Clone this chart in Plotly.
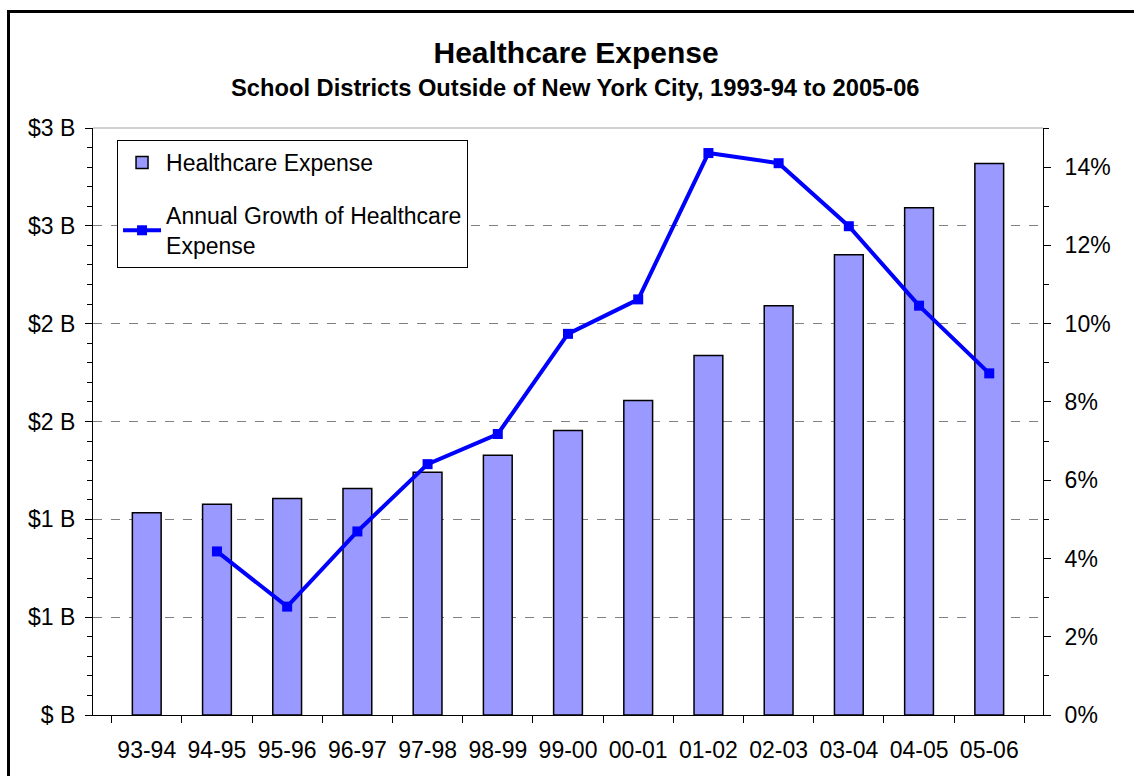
import plotly.graph_objects as go

# values
years = ['93-94', '94-95', '95-96', '96-97', '97-98', '98-99', '99-00',
         '00-01', '01-02', '02-03', '03-04', '04-05', '05-06']
expense_b = [1.034, 1.077, 1.107, 1.158, 1.240, 1.327, 1.454,
             1.607, 1.837, 2.092, 2.352, 2.592, 2.819]
growth_pct = [None, 4.18, 2.77, 4.69, 6.41, 7.18, 9.74,
              10.62, 14.36, 14.10, 12.49, 10.46, 8.73]

left_ticks = [0, 0.5, 1.0, 1.5, 2.0, 2.5, 3.0]
left_labels = ['$ B', '$1 B', '$1 B', '$2 B', '$2 B', '$3 B', '$3 B']

FONT = 'Liberation Sans, Arial, sans-serif'

fig = go.Figure()

fig.add_trace(go.Bar(x=years,
                     y=expense_b,
                     name='Healthcare Expense',
                     legendgroup='a',
                     marker=dict(color='#9999FF', line=dict(color='black', width=1.5)),
                     yaxis='y'))

fig.add_trace(go.Scatter(x=years,
                         y=growth_pct,
                         mode='lines+markers',
                         name='Annual Growth of Healthcare<br>Expense',
                         legendgroup='b',
                         line=dict(color='#0000FF', width=4),
                         marker=dict(symbol='square', size=10, color='#0000FF'),
                         yaxis='y2'))

fig.update_layout(
    width=1134,
    height=776,
    title=dict(text='<b>Healthcare Expense</b>', x=0.508, xanchor='center',
               y=1 - 52 / 776, yanchor='middle', yref='container',
               font=dict(family=FONT, size=30, color='black')),
    font=dict(family=FONT, size=23, color='black'),
    plot_bgcolor='white',
    paper_bgcolor='white',
    margin=dict(l=93, r=91, t=128, b=61),
    bargap=0.59,
    showlegend=True,
    legend=dict(x=0.0253, y=0.9796, xanchor='left', yanchor='top',
                bgcolor='white', bordercolor='black', borderwidth=1,
                traceorder='grouped', tracegroupgap=20, itemwidth=38,
                font=dict(family=FONT, size=23)),
    xaxis=dict(type='category', showline=True, linecolor='black', linewidth=1,
               ticks='outside', ticklen=7, tickcolor='black', tickson='boundaries',
               ticklabelstandoff=14,
               showgrid=False, tickfont=dict(size=23)),
    yaxis=dict(range=[0, 3.0], tickvals=left_ticks, ticktext=left_labels,
               showline=True, linecolor='black', linewidth=1,
               ticks='outside', ticklen=7, tickcolor='black', ticklabelstandoff=5,
               minor=dict(dtick=0.1, ticks='outside', ticklen=5, tickcolor='black', showgrid=False),
               showgrid=True, gridcolor='#808080', griddash='dash', gridwidth=1,
               zeroline=False, tickfont=dict(size=23)),
    yaxis2=dict(range=[0, 15], dtick=2, tick0=0, ticksuffix='%', overlaying='y', side='right',
                showline=True, linecolor='black', linewidth=1,
                ticks='outside', ticklen=7, tickcolor='black', ticklabelstandoff=9,
                minor=dict(dtick=1, ticks='outside', ticklen=5, tickcolor='black', showgrid=False),
                showgrid=False, zeroline=False, tickfont=dict(size=23)),
    annotations=[dict(text='<b>School Districts Outside of New York City, 1993-94 to 2005-06</b>',
                      xref='paper', yref='paper', x=0.5084, y=(715 - 88) / 587,
                      xanchor='center', yanchor='middle', showarrow=False,
                      font=dict(family=FONT, size=23.7, color='black'))],
    shapes=[
        # light top border of the plot area
        dict(type='line', xref='paper', yref='paper', x0=0, x1=1, y0=1, y1=1,
             line=dict(color='#C0C0C0', width=1.5), layer='above'),
        # outer chart frame
        dict(type='rect', xref='paper', yref='paper',
             x0=(8.5 - 93) / 950, x1=1.2, y0=-0.3, y1=(715 - 11.5) / 587,
             line=dict(color='black', width=3), fillcolor='rgba(0,0,0,0)'),
    ],
)

fig.write_html("out.html",
               config={'displayModeBar': False},
               post_script="document.body.style.margin='0';document.body.style.overflow='hidden';")
